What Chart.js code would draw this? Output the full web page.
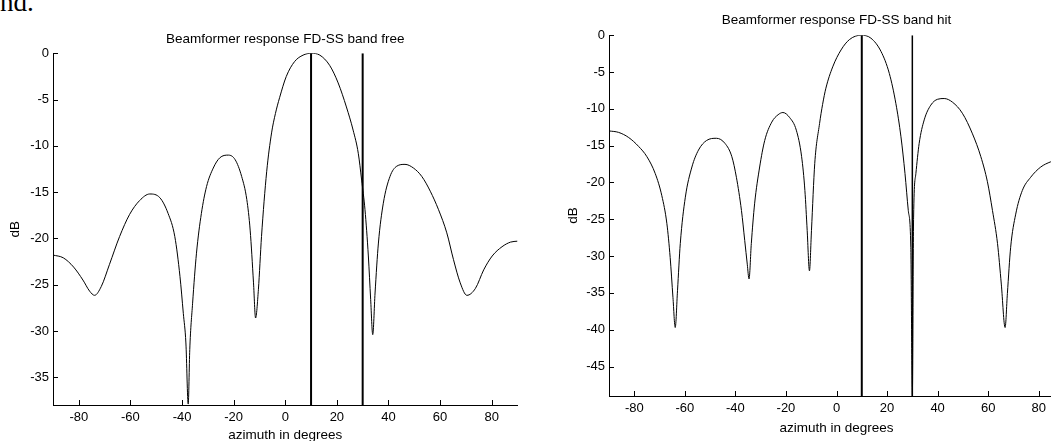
<!DOCTYPE html>
<html>
<head>
<meta charset="utf-8">
<title>Beamformer response FD-SS</title>
<script src="https://cdn.jsdelivr.net/npm/chart.js@4/dist/chart.umd.min.js"></script>
<style>
  html, body { margin: 0; padding: 0; background: #fff; }
  body { width: 1051px; height: 441px; overflow: hidden; position: relative; }
  canvas { position: absolute; top: 0; }
  #freeChart { left: 0; }
  #hitChart { left: 561px; }
  #note { position: absolute; left: 0; top: -11px; font: 27px/27px "Liberation Serif", "Times New Roman", serif; color: #000; }
</style>
</head>
<body>
<div id="note">nd.</div>
<canvas id="freeChart" width="540" height="460"></canvas>
<canvas id="hitChart" width="540" height="460"></canvas>
<script>
"use strict";

// Azimut-ticks (samma i båda diagrammen)
const xTicks = [-80, -60, -40, -20, 0, 20, 40, 60, 80];

// Riktningar för de två vertikala linjerna (grader)
const beamAngles = [10, 30];

// Band free
const freeAz = [-90, -86, -82, -78.4, -75.8, -73.9, -71.3, -68.1, -64.2, -60.3, -56.4, -52.5, -48.6, -45.4,
  -42.8, -40.8, -39.5, -38.5, -37.6, -37, -35.9, -34.4, -32.5, -30.5, -27.9, -25.4, -22, -19.4, -16.9,
  -14.9, -13.6, -12.3, -11.5, -10.4, -9.2, -7.2, -5.3, -3.8, -2.2, 0.4, 3.6, 6.9, 10, 13.4, 17.2, 20.5, 23.7,
  26.3, 28.3, 29.6, 30.9, 32.2, 33.1, 33.9, 34.8, 36.1, 38, 40.6, 43.2, 46.4, 49.7, 52.9, 56.2, 59.4,
  62.6, 65.2, 67.8, 70.4, 73.7, 76.9, 80.2, 84, 87.3, 90];
const freeDb = [-21.8, -22.1, -23.1, -24.5, -25.7, -26.15, -25.2, -22.8, -19.8, -17.4, -15.9, -15.2, -15.6, -17.3,
  -19.8, -24.1, -28.1, -31.3, -37.9, -32, -27, -21.6, -17.3, -14.4, -12.4, -11.3, -11, -11.5, -13.3,
  -15.8, -19.1, -24.8, -28.6, -25.5, -19.8, -12.8, -8.6, -6.5, -4.8, -2.5, -0.9, -0.2, 0, -0.2, -1.3, -3.2, -5.8,
  -8.3, -10.8, -13.7, -16.9, -21.9, -26.6, -30.4, -25.9, -20.5, -16.2, -13.3, -12.2, -12, -12.4, -13.3, -14.9, -16.9,
  -19.4, -22.3, -24.8, -26.15, -25.4, -23.4, -21.9, -20.9, -20.4, -20.3];
const freeYTicks = [0, -5, -10, -15, -20, -25, -30, -35];
const freeYMin = -38;

// Band hit
const hitAz = [-90, -86.2, -82.2, -78.3, -75, -71.7, -69.1, -67.1, -65.8, -64.7, -63.8, -62.9, -61.8, -59.8,
  -57.2, -54.6, -51.4, -47.5, -44.1, -41.4, -39.6, -37.6, -36.3, -35.3, -34.6, -33.7, -32.4, -30.4, -28.4,
  -25.6, -23.1, -21.2, -18.5, -15.9, -13.8, -12.5, -11.6, -10.7, -9.9, -8.6, -6.7, -5.5, -4.2, -1.5, 1.8, 5.1,
  9.7, 13.6, 17.6, 20.9, 23.5, 25.5, 27.1, 28.4, 29.4, 30, 30.5, 31.4, 32.7, 34.7, 37.3, 40, 42.6, 45.9,
  49.8, 53.8, 57.1, 59.7, 61.7, 63.7, 65.2, 66.7, 67.6, 68.9, 70.9, 73.5, 76.8, 80.8, 84.7, 87.5, 90];
const hitDb = [-13, -13.2, -13.9, -15.1, -16.5, -18.8, -21.8, -25.6, -30.2, -35.6, -39.7, -34.7, -28.3, -22,
  -17.9, -15.6, -14.3, -14, -14.7, -16.5, -19.3, -23.8, -27.9, -31.1, -33.1, -28.3, -22.9, -17.9, -14.3,
  -11.8, -10.8, -10.5, -11.2, -12.9, -16.5, -21.1, -26.5, -32, -26.5, -17.4, -12, -9.4, -7.2, -4.3, -2, -0.6,
  0, -0.4, -2.2, -5.2, -9.3, -13.8, -18.8, -23.8, -28.8, -49, -24.7, -18.8, -14.7, -11.5, -9.5, -8.7, -8.6, -9.1,
  -10.6, -13.4, -16.5, -19.9, -23.8, -28.3, -33.8, -39.7, -35.1, -28.8, -24.3, -21.1, -19.3, -17.9, -17.2, -16.9, -16.8];
const hitYTicks = [0, -5, -10, -15, -20, -25, -30, -35, -40, -45];
const hitYMin = -49;

Chart.defaults.font.family = '"Liberation Sans", Arial, sans-serif';
Chart.defaults.color = '#000';

// MATLAB-liknande ticks som pekar in i ritytan
const innerTicks = {
  id: 'innerTicks',
  afterDraw(chart) {
    const { ctx, chartArea, scales } = chart;
    ctx.save();
    ctx.strokeStyle = '#000';
    ctx.lineWidth = 1;
    ctx.beginPath();
    scales.x.ticks.forEach((t) => {
      const px = Math.round(scales.x.getPixelForValue(t.value)) + 0.5;
      ctx.moveTo(px, chartArea.bottom);
      ctx.lineTo(px, chartArea.bottom - 5);
    });
    scales.y.ticks.forEach((t) => {
      const py = Math.round(scales.y.getPixelForValue(t.value)) + 0.5;
      ctx.moveTo(chartArea.left, py);
      ctx.lineTo(chartArea.left + 5, py);
    });
    ctx.stroke();
    ctx.restore();
  }
};

function makeChart(id, title, az, db, yTicks, yMin, lineWidths, box) {
  const curve = az.map((a, i) => ({ x: a, y: db[i] }));

  const datasets = [{
    data: curve,
    borderColor: '#000',
    borderWidth: 1,
    pointRadius: 0,
    cubicInterpolationMode: 'monotone'
  }];

  // Vertikala linjer vid stråle-riktningarna
  beamAngles.forEach((ang, i) => {
    datasets.push({
      data: [{ x: ang, y: 0 }, { x: ang, y: yMin }],
      borderColor: '#000',
      borderWidth: lineWidths[i],
      pointRadius: 0
    });
  });

  return new Chart(document.getElementById(id), {
    type: 'line',
    data: { datasets: datasets },
    options: {
      responsive: false,
      animation: false,
      layout: { padding: box.padding },
      plugins: {
        legend: { display: false },
        tooltip: { enabled: false },
        title: {
          display: true,
          text: title,
          fullSize: false,
          font: { size: 13.5, weight: 'normal', lineHeight: 1.2 },
          padding: { top: 0, bottom: box.titleGap }
        }
      },
      scales: {
        x: {
          type: 'linear',
          min: -90,
          max: 90,
          grid: { display: false, drawTicks: false },
          border: { display: true, color: '#000', width: 1 },
          afterBuildTicks: (s) => { s.ticks = xTicks.map((v) => ({ value: v })); },
          afterFit: (s) => { s.height = box.xHeight; },
          ticks: { font: { size: 13 }, padding: 5, maxRotation: 0, callback: (v) => String(v) },
          title: { display: true, text: 'azimuth in degrees', font: { size: 13.5, lineHeight: 1.2 }, padding: 0 }
        },
        y: {
          type: 'linear',
          min: yMin,
          max: 0,
          grid: { display: false, drawTicks: false },
          border: { display: true, color: '#000', width: 1 },
          afterBuildTicks: (s) => { s.ticks = yTicks.map((v) => ({ value: v })); },
          afterFit: (s) => { s.width = box.yWidth; },
          ticks: { font: { size: 13 }, padding: 4, callback: (v) => String(v) },
          title: { display: true, text: 'dB', font: { size: 13.5, lineHeight: 1.2 }, padding: 0 }
        }
      }
    },
    plugins: [innerTicks]
  });
}

makeChart('freeChart', 'Beamformer response FD-SS band free', freeAz, freeDb, freeYTicks, freeYMin, [2, 2], {
  padding: { left: 7, top: 30.9, right: 22.5, bottom: 17 },
  titleGap: 6.2, xHeight: 38, yWidth: 46
});

makeChart('hitChart', 'Beamformer response FD-SS band hit', hitAz, hitDb, hitYTicks, hitYMin, [2, 1.5], {
  padding: { left: 4, top: 11.9, right: 37, bottom: 24 },
  titleGap: 7.1, xHeight: 40, yWidth: 44
});
</script>
</body>
</html>
